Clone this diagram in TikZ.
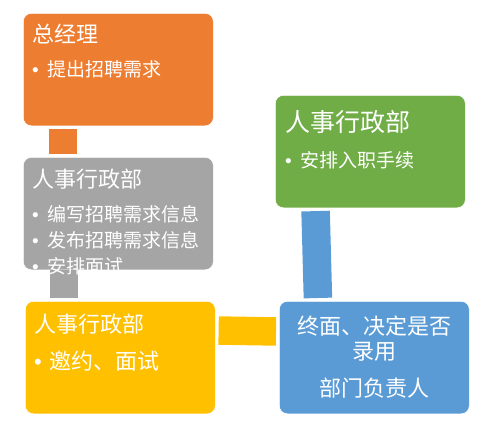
\documentclass[tikz,border=0pt]{standalone}
\usepackage{fontspec}
\newfontfamily\cjk{Noto Sans CJK SC}
\newfontfamily\latinf{Liberation Sans}
\definecolor{cOrange}{HTML}{ED7D31}
\definecolor{cGray}{HTML}{A5A5A5}
\definecolor{cGreen}{HTML}{70AD47}
\definecolor{cYellow}{HTML}{FFC000}
\definecolor{cBlue}{HTML}{5B9BD5}
\newcommand{\bul}{\makebox[15pt][l]{\latinf •}}
\tikzset{
  box/.style={draw=white, line width=0.6pt, rounded corners=8pt, minimum width=190pt, minimum height=112.5pt, anchor=north west, inner sep=0pt},
  bar/.style={line width=28.5pt, line cap=butt, shorten <=3pt, shorten >=3pt},
  ttl/.style={text=white, anchor=west, inner sep=0pt, font=\cjk\fontsize{22}{26}\selectfont},
  bigttl/.style={ttl, font=\cjk\fontsize{25}{29}\selectfont},
  itm/.style={text=white, anchor=west, inner sep=0pt, font=\cjk\fontsize{19}{22}\selectfont},
  bigitm/.style={itm, font=\cjk\fontsize{22}{26}\selectfont},
  ctr/.style={text=white, anchor=center, inner sep=0pt, font=\cjk\fontsize{22}{26}\selectfont}
}
\begin{document}
\begin{tikzpicture}[x=1pt,y=-1pt]
\useasboundingbox (0,0) rectangle (486,421);
% boxes
\node[box, fill=cOrange] (o) at (23,13) {};
\node[box, fill=cGray] (g) at (23,157) {};
\node[box, fill=cYellow] (y) at (25,301) {};
\node[box, fill=cBlue] (b) at (279,301) {};
\node[box, fill=cGreen] (gr) at (275,95) {};
% connector bars
\draw[bar, cOrange] ([xshift=40pt]o.south west) -- ([xshift=40pt]o.south west |- g.north);
\draw[bar, cGray, shorten <=0pt] ([xshift=41pt]g.south west) -- ([xshift=41pt]g.south west |- y.north);
\draw[bar, cYellow] ([yshift=-29.5pt]y.north east) -- ([yshift=-30.5pt]b.north west);
\draw[bar, cBlue] ([xshift=40.5pt]gr.south west) -- ([xshift=39pt]b.north west);
% texts
\node[ttl] (ot) at (32,34) {总经理};
\node[itm] (oi) at (32,69) {\bul 提出招聘需求};
\node[ttl] (gt) at (32,179) {人事行政部};
\node[itm] (gi1) at (32,214) {\bul 编写招聘需求信息};
\node[itm] (gi2) at (32,240) {\bul 发布招聘需求信息};
\node[itm] (gi3) at (32,266) {\bul 安排面试};
\node[ttl] (yt) at (34,324) {人事行政部};
\node[bigitm] (yi) at (34,361) {\makebox[15pt][l]{\latinf •}邀约、面试};
\node[bigttl] (grt) at (285,122) {人事行政部};
\node[itm] (gri) at (285,160) {\bul 安排入职手续};
\node[ctr] (b1) at (374,326) {终面、决定是否};
\node[ctr] (b2) at (374,352) {录用};
\node[ctr] (b3) at (374,388) {部门负责人};
\end{tikzpicture}
\end{document}
